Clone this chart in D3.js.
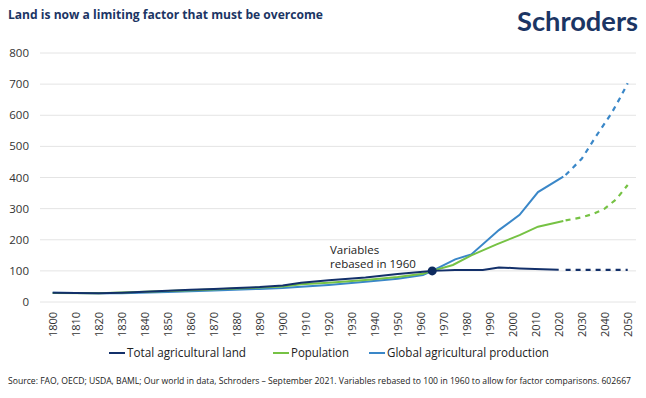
<!DOCTYPE html>
<html><head><meta charset="utf-8">
<script src="https://cdn.jsdelivr.net/npm/d3@7"></script>
<style>body{margin:0;background:#fff}svg{display:block;font-family:"Open Sans",sans-serif}</style>
</head><body><svg id="c" width="646" height="398"></svg>
<script>
const yTicks = [0,100,200,300,400,500,600,700,800];
const xTickYears = d3.range(1800, 2051, 10);
const landYears   = [1800,1810,1820,1830,1840,1850,1860,1870,1880,1890,1900,1908,1920,1936,1950,1961,1965,1975,1987,1994,2003,2020];
const landValues  = [30,29,28,30,33,36,39,42,45,48,53,62,70,79,90,97,100,103,103,111,108,104];
const landProjYears  = [2023,2050];
const landProjValues = [103,103];
const popYears   = [1800,1820,1840,1860,1880,1900,1908,1920,1936,1950,1961,1965,1974,1982,1993,2003,2011,2022];
const popValues  = [29,28,33,38,43,50,57,62,71,80,91,100,119,150,185,215,242,260];
const popProjYears  = [2023,2030,2035,2040,2045,2050];
const popProjValues = [262,272,283,300,330,376];
const prodYears  = [1800,1820,1830,1850,1870,1890,1900,1908,1920,1936,1950,1961,1965,1975,1982,1994,2003,2011,2022];
const prodValues = [30,28,28,32,37,42,45,49,55,65,75,87,100,137,153,231,280,353,403];
const prodProjYears  = [2023,2030,2036,2043,2047,2050];
const prodProjValues = [408,460,530,607,660,703];
const rebaseYear = 1965, rebaseValue = 100;
const seriesNames = ["Total agricultural land","Population","Global agricultural production"];
const colors = ["#13306a","#76c244","#3a87c8"];

const svg = d3.select("#c");
const x = d3.scaleLinear().domain([1800,2050]).range([52.7,627.7]);
const y = d3.scaleLinear().domain([0,800]).range([302,53]);

svg.append("g").selectAll("line").data(yTicks).join("line")
  .attr("x1",40).attr("x2",636).attr("y1",d=>y(d)).attr("y2",d=>y(d))
  .attr("stroke","#e4e4e4").attr("stroke-width",1);
svg.append("g").selectAll("text").data(yTicks).join("text")
  .attr("x",29).attr("y",d=>y(d)).attr("dy","0.35em").attr("text-anchor","end")
  .attr("font-size",11.5).attr("fill","#333").text(d=>d);
svg.append("g").selectAll("text").data(xTickYears).join("text")
  .attr("transform",d=>`translate(${x(d)+4},337) rotate(-90)`)
  .attr("font-size",11).attr("fill","#333").text(d=>d);

const line = d3.line().x(d=>x(d[0])).y(d=>y(d[1]));
const zip = (a,b)=>a.map((v,i)=>[v,b[i]]);
const solid = [zip(landYears,landValues), zip(popYears,popValues), zip(prodYears,prodValues)];
const proj = [zip(landProjYears,landProjValues), zip(popProjYears,popProjValues), zip(prodProjYears,prodProjValues)];
const order = [2,1,0];
order.forEach(i=>{
  svg.append("path").attr("d",line(proj[i])).attr("fill","none")
    .attr("stroke",colors[i]).attr("stroke-width",2.2).attr("stroke-dasharray","5,5");
});
order.forEach(i=>{
  svg.append("path").attr("d",line(solid[i])).attr("fill","none")
    .attr("stroke",colors[i]).attr("stroke-width",2);
});
svg.append("circle").attr("cx",x(rebaseYear)).attr("cy",y(rebaseValue)).attr("r",4.5).attr("fill","#0d2a5e");
svg.append("text").attr("x",330).attr("y",254).attr("font-size",11.5).attr("fill","#222").text("Variables");
svg.append("text").attr("x",330).attr("y",268).attr("font-size",11.5).attr("fill","#222").text("rebased in 1960");

svg.append("text").attr("x",8).attr("y",19).attr("font-size",13).attr("font-weight","bold")
  .attr("fill","#1b3564").attr("textLength",315).attr("lengthAdjust","spacingAndGlyphs")
  .text("Land is now a limiting factor that must be overcome");
svg.append("text").attr("x",517).attr("y",31).attr("font-size",26).attr("font-weight","bold")
  .attr("fill","#1b3564").attr("textLength",121).attr("lengthAdjust","spacingAndGlyphs")
  .attr("font-family","Lato, sans-serif").text("Schroders");

const legX = [109,273,369];
const legW = [119,58,162];
seriesNames.forEach((n,i)=>{
  svg.append("line").attr("x1",legX[i]).attr("x2",legX[i]+16).attr("y1",353).attr("y2",353)
    .attr("stroke",colors[i]).attr("stroke-width",2);
  svg.append("text").attr("x",legX[i]+18).attr("y",353).attr("dy","0.35em").attr("font-size",12)
    .attr("fill","#222").attr("textLength",legW[i]).attr("lengthAdjust","spacingAndGlyphs").text(n);
});
svg.append("text").attr("x",8).attr("y",384).attr("font-size",8.5).attr("fill","#222")
  .attr("textLength",623).attr("lengthAdjust","spacingAndGlyphs")
  .text("Source: FAO, OECD; USDA, BAML; Our world in data, Schroders \u2013 September 2021. Variables rebased to 100 in 1960 to allow for factor comparisons. 602667");
</script></body></html>
